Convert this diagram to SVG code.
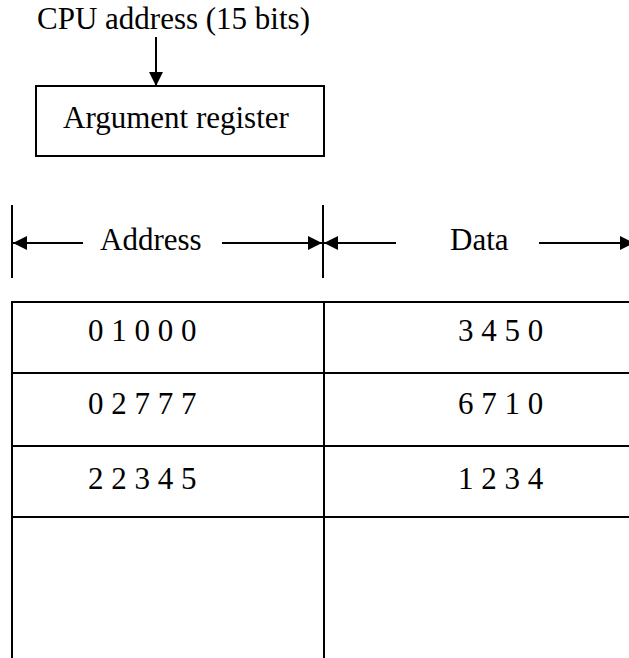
<svg xmlns="http://www.w3.org/2000/svg" width="629" height="658" viewBox="0 0 629 658">
<style>
.t{font-family:'Liberation Serif', 'Times New Roman', Times, serif;font-size:31px;fill:#000}
.ln{stroke:#000;stroke-width:2;fill:none}
</style>
<defs>
<marker id="ah" viewBox="0 0 14 14" refX="14" refY="7" markerWidth="14" markerHeight="14" markerUnits="userSpaceOnUse" orient="auto">
<path d="M0,0 L14,7 L0,14 Z" fill="#000"/>
</marker>
</defs>
<rect width="629" height="658" fill="#fff"/>
<g font-family="Liberation Serif, serif" font-size="31">
<g id="cpu-label"><text class="t" x="37" y="29">CPU address (15 bits)</text></g>
<g id="argument-register">
<rect class="ln" x="36" y="86" width="288" height="70"/>
<text class="t" x="63" y="128">Argument register</text>
</g>
<g id="dimension">
<line class="ln" x1="12" y1="205" x2="12" y2="278"/>
<line class="ln" x1="323" y1="205" x2="323" y2="278"/>
<text class="t" x="100" y="250">Address</text>
<text class="t" x="450" y="250">Data</text>
</g>
<g id="table">
<line class="ln" x1="11" y1="302" x2="629" y2="302"/>
<line class="ln" x1="11" y1="373" x2="629" y2="373"/>
<line class="ln" x1="11" y1="446" x2="629" y2="446"/>
<line class="ln" x1="11" y1="517" x2="629" y2="517"/>
<line class="ln" x1="12" y1="301" x2="12" y2="658"/>
<line class="ln" x1="324" y1="301" x2="324" y2="658"/>
<text class="t" x="88" y="341">0 1 0 0 0</text>
<text class="t" x="458" y="341">3 4 5 0</text>
<text class="t" x="88" y="414">0 2 7 7 7</text>
<text class="t" x="458" y="414">6 7 1 0</text>
<text class="t" x="88" y="489">2 2 3 4 5</text>
<text class="t" x="458" y="489">1 2 3 4</text>
</g>
</g>
<g id="connectors">
<line class="ln" x1="156" y1="37" x2="156" y2="86" marker-end="url(#ah)"/>
<line class="ln" x1="83" y1="243" x2="13" y2="243" marker-end="url(#ah)"/>
<line class="ln" x1="222" y1="243" x2="322" y2="243" marker-end="url(#ah)"/>
<line class="ln" x1="396" y1="243" x2="324" y2="243" marker-end="url(#ah)"/>
<line class="ln" x1="539" y1="243" x2="634" y2="243" marker-end="url(#ah)"/>
</g>
</svg>
